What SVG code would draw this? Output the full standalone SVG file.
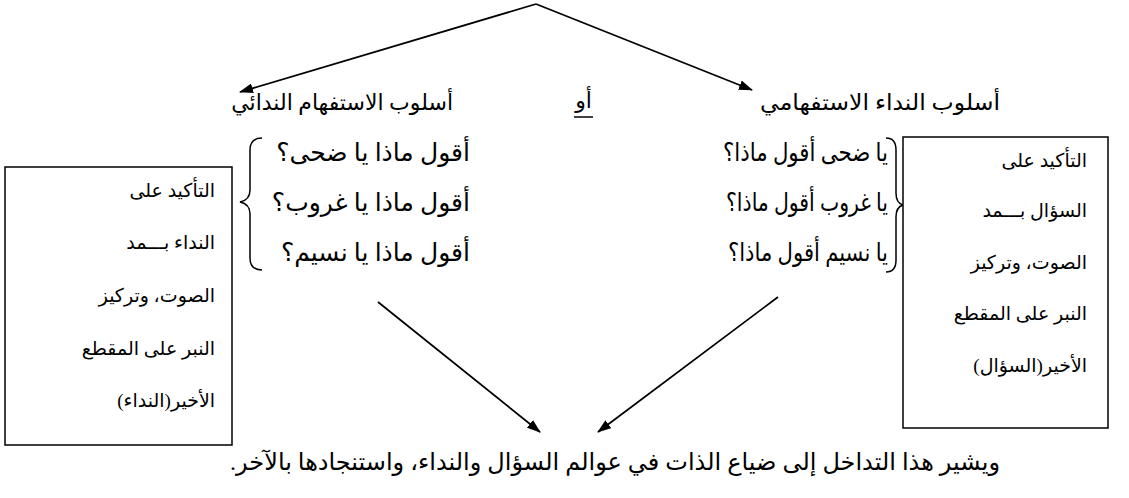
<svg xmlns="http://www.w3.org/2000/svg" width="1129" height="498" viewBox="0 0 1129 498">
<defs>
<marker id="ah" viewBox="0 0 14 10" refX="13" refY="5" markerWidth="14" markerHeight="10" markerUnits="userSpaceOnUse" orient="auto">
<path d="M0,0 L14,5 L0,10 Z" fill="#000"/>
</marker>
<style>
text{font-family:"Liberation Serif","DejaVu Serif","DejaVu Sans",serif;fill:#000;direction:rtl;unicode-bidi:embed;}
.t{font-size:22px;text-anchor:start;}
.s{font-size:24px;text-anchor:start;}
.r{font-size:25px;text-anchor:start;}
.b{font-size:19px;text-anchor:start;}
.box{fill:#fff;stroke:#000;stroke-width:1.5;}
.br{fill:none;stroke:#000;stroke-width:1.5;}
.c{fill:none;stroke:#000;stroke-width:1.8;marker-end:url(#ah);}
</style>
</defs>
<rect width="1129" height="498" fill="#fff"/>
<g id="connectors">
<path class="c" d="M536,4 L240,92"/>
<path class="c" d="M536,4 L752,90"/>
<path class="c" d="M378,302 L540,432"/>
<path class="c" d="M778,297 L598,432"/>
</g>
<g id="title-left">
<text class="t" x="453" y="110">أسلوب الاستفهام الندائي</text>
</g>
<g id="or">
<text class="t" x="592" y="108">أو</text>
<line x1="574" y1="117" x2="593" y2="117" stroke="#000" stroke-width="1.5"/>
</g>
<g id="title-right">
<text class="t" x="1000" y="110" textLength="240" lengthAdjust="spacingAndGlyphs">أسلوب النداء الاستفهامي</text>
</g>
<g id="left-rows">
<text class="r" x="470" y="161">أقول ماذا يا ضحى؟</text>
<text class="r" x="470" y="211">أقول ماذا يا غروب؟</text>
<text class="r" x="470" y="261">أقول ماذا يا نسيم؟</text>
<path class="br" d="M262,138 Q250,138 250,150 L250,190 Q250,200 240,202 Q250,204 250,214 L250,258 Q250,270 262,270"/>
</g>
<g id="right-rows">
<text class="r" x="888" y="161" textLength="165" lengthAdjust="spacingAndGlyphs">يا ضحى أقول ماذا؟</text>
<text class="r" x="888" y="211" textLength="162" lengthAdjust="spacingAndGlyphs">يا غروب أقول ماذا؟</text>
<text class="r" x="888" y="261" textLength="160" lengthAdjust="spacingAndGlyphs">يا نسيم أقول ماذا؟</text>
<path class="br" d="M886,138 Q896,138 896,150 L896,193 Q896,203 903,205 Q896,207 896,217 L896,260 Q896,272 886,272"/>
</g>
<g id="left-box">
<rect class="box" x="5" y="167" width="227" height="278"/>
<text class="b" x="215" y="197">التأكيد على</text>
<text class="b" x="215" y="249">النداء بـــمد</text>
<text class="b" x="215" y="302">الصوت، وتركيز</text>
<text class="b" x="215" y="355">النبر على المقطع</text>
<text class="b" x="215" y="407">الأخير(النداء)</text>
</g>
<g id="right-box">
<rect class="box" x="903" y="137" width="205" height="291"/>
<text class="b" x="1087" y="167">التأكيد على</text>
<text class="b" x="1087" y="217">السؤال بـــمد</text>
<text class="b" x="1087" y="269">الصوت، وتركيز</text>
<text class="b" x="1087" y="320">النبر على المقطع</text>
<text class="b" x="1087" y="372">الأخير(السؤال)</text>
</g>
<g id="conclusion">
<text class="s" x="1000" y="470">ويشير هذا التداخل إلى ضياع الذات في عوالم السؤال والنداء، واستنجادها بالآخر.</text>
</g>
</svg>
